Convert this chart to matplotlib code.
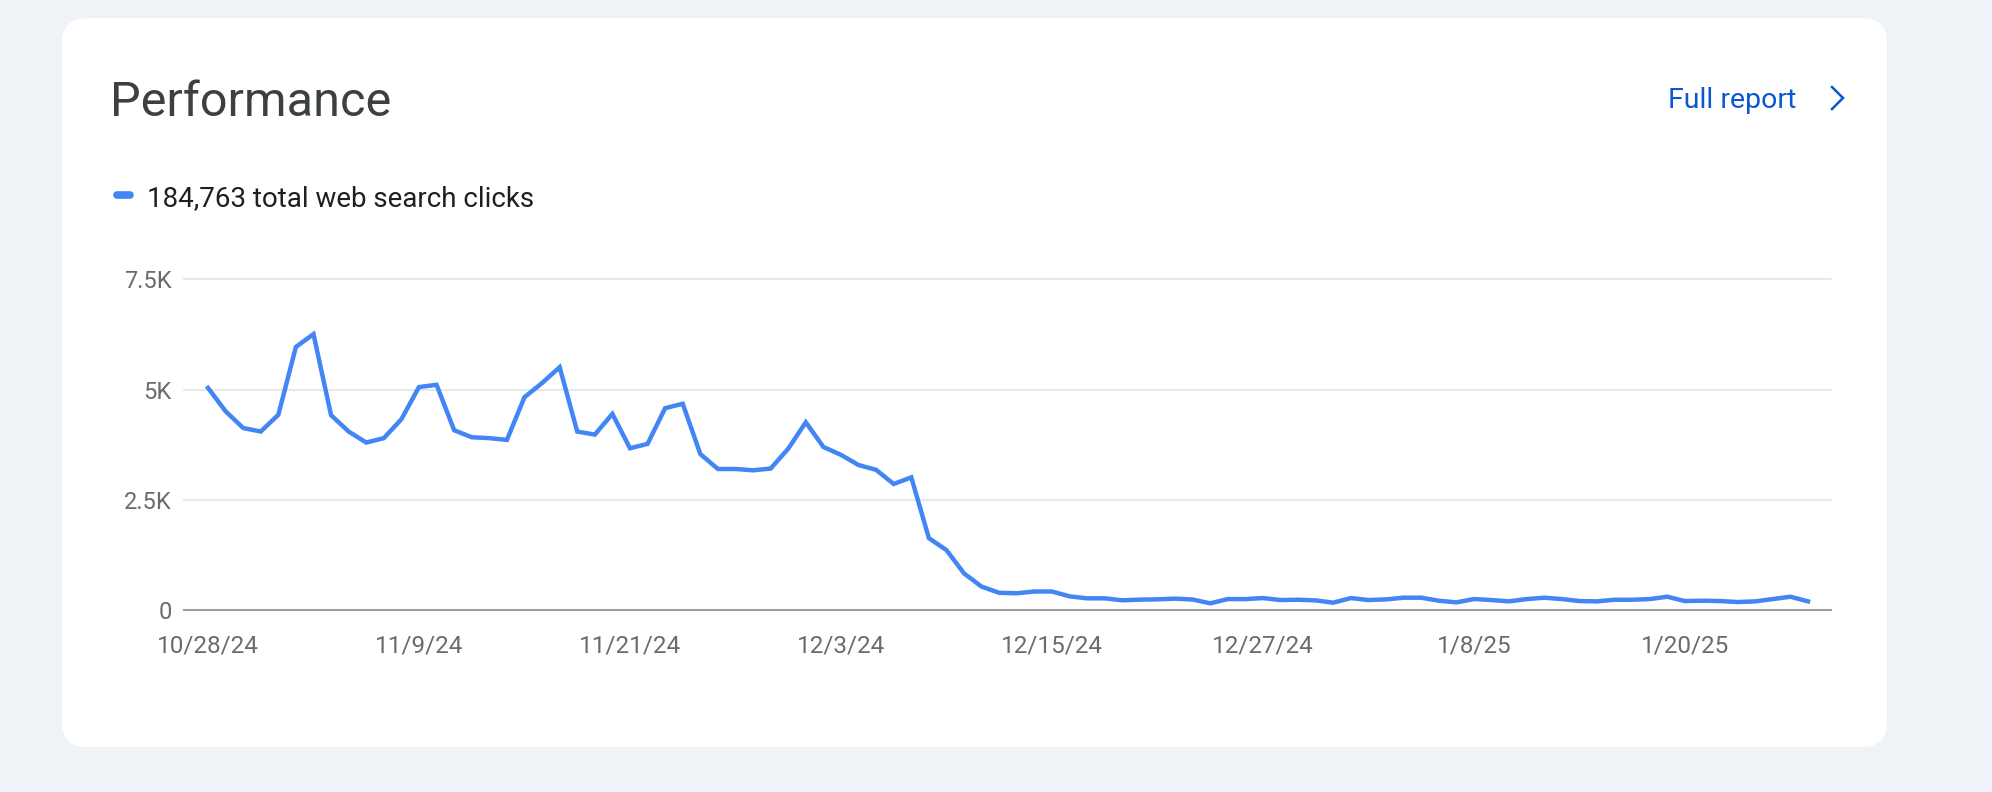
import numpy as np
import matplotlib
matplotlib.use("Agg")
import matplotlib.pyplot as plt
from matplotlib.patches import FancyBboxPatch
from matplotlib.lines import Line2D

plt.rcParams['font.family'] = ['Roboto', 'DejaVu Sans']

# Daily web search clicks, 10/28/24 .. 1/27/25
clicks = [
    5040, 4510, 4130, 4050, 4430, 5970, 6260, 4420, 4050, 3800,
    3900, 4330, 5060, 5110, 4080, 3920, 3900, 3860, 4830, 5150,
    5510, 4050, 3980, 4450, 3670, 3770, 4580, 4680, 3540, 3200,
    3200, 3170, 3210, 3660, 4260, 3700, 3520, 3290, 3180, 2860,
    3010, 1630, 1360, 830, 530, 390, 380, 420, 420, 310,
    265, 265, 220, 235, 242, 258, 238, 151, 248, 248,
    271, 226, 233, 218, 166, 271, 226, 241, 279, 279,
    211, 173, 248, 226, 196, 248, 279, 248, 203, 196,
    233, 233, 248, 301, 203, 211, 203, 181, 196, 248,
    301, 196,
]
tick_days = [0, 12, 24, 36, 48, 60, 72, 84]
tick_labels = ['10/28/24', '11/9/24', '11/21/24', '12/3/24',
               '12/15/24', '12/27/24', '1/8/25', '1/20/25']
y_ticks = [0, 2500, 5000, 7500]
y_labels = ['0', '2.5K', '5K', '7.5K']
total_label = '184,763 total web search clicks'

W, H = 1992, 792
fig = plt.figure(figsize=(W / 100, H / 100), dpi=100)
fig.patch.set_facecolor('#eff2f7')

# pixel-space background axes for the card and header
bg = fig.add_axes([0, 0, 1, 1])
bg.set_xlim(0, W)
bg.set_ylim(H, 0)
bg.axis('off')
card = FancyBboxPatch((62 + 25, 18 + 25), 1825 - 50, 729 - 50,
                      boxstyle='round,pad=25', fc='white', ec='none')
bg.add_patch(card)

bg.text(110, 116, 'Performance', fontsize=35, color='#3c4043',
        va='baseline', ha='left')
bg.text(1668, 108, 'Full report', fontsize=20.5, color='#0b57d0',
        va='baseline', ha='left')
bg.add_line(Line2D([1832, 1843, 1832], [87, 98, 109], color='#0b57d0',
                   lw=1.8, solid_joinstyle='miter'))
bg.add_line(Line2D([117, 130], [195, 195], color='#4285f4', lw=5.5,
                   solid_capstyle='round'))
bg.text(147, 206, total_label, fontsize=20, color='#1f1f1f',
        va='baseline', ha='left')

# chart axes
x0, x1 = 184, 1831
ytop, ybot = 279.5, 610
ax = fig.add_axes([x0 / W, 1 - ybot / H, (x1 - x0) / W, (ybot - ytop) / H])
ax.set_facecolor('none')

days = np.arange(len(clicks))
ax.plot(days, clicks, color='#4285f4', lw=3.2, solid_joinstyle='miter')

px_per_day = (1808 - 208) / (len(clicks) - 1)
ax.set_xlim(-(208 - x0) / px_per_day, len(clicks) - 1 + (x1 - 1808) / px_per_day)
ax.set_ylim(0, 7500)
ax.set_yticks(y_ticks, y_labels)
ax.set_xticks(tick_days, tick_labels)
for y in y_ticks[1:]:
    ax.axhline(y, color='#e6e6e6', lw=1.3, zorder=0, clip_on=False)
ax.axhline(0, color='#9a9a9a', lw=1.4, zorder=3, clip_on=False)

for s in ax.spines.values():
    s.set_visible(False)
ax.tick_params(axis='both', length=0, colors='#6b6b6b')
ax.tick_params(axis='y', pad=9, labelsize=17)
ax.tick_params(axis='x', pad=18, labelsize=17.5)

fig.savefig('out.png', dpi=100, facecolor=fig.get_facecolor())
